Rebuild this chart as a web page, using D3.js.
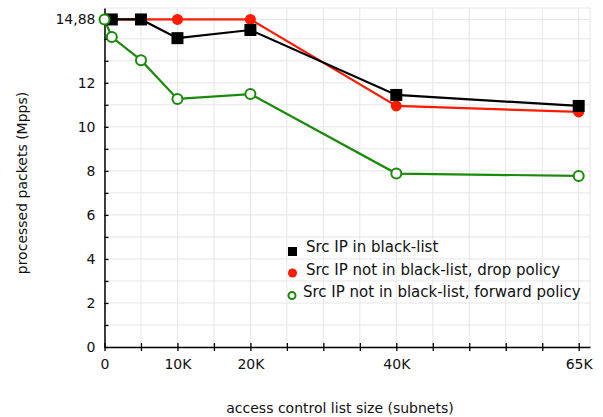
<!DOCTYPE html>
<html>
<head>
<meta charset="utf-8">
<script src="https://cdn.jsdelivr.net/npm/d3@7"></script>
<style>
  body { margin: 0; background: #fff; }
  text { font-family: "DejaVu Sans", sans-serif; }
</style>
</head>
<body>
<svg id="chart" width="603" height="417"></svg>
<script>
// Data (x in subnets, y in Mpps)
const blackX = [1000, 5000, 10000, 20000, 40000, 65000];
const blackY = [14.88, 14.88, 14.03, 14.4, 11.45, 10.95];
const redX = [1000, 5000, 10000, 20000, 40000, 65000];
const redY = [14.88, 14.88, 14.88, 14.88, 10.95, 10.68];
const greenX = [0, 1000, 5000, 10000, 20000, 40000, 65000];
const greenY = [14.88, 14.08, 13.03, 11.27, 11.49, 7.88, 7.77];

const xTicks = [0,5000,10000,15000,20000,25000,30000,35000,40000,45000,50000,55000,60000,65000];
const xTickLabels = {0: "0", 10000: "10K", 20000: "20K", 40000: "40K", 65000: "65K"};
const yTicks = [0,1,2,3,4,5,6,7,8,9,10,11,12,13,14,14.88];
const yTickLabels = {0: "0", 2: "2", 4: "4", 6: "6", 8: "8", 10: "10", 12: "12", 14.88: "14,88"};
const seriesNames = ["Src IP in black-list", "Src IP not in black-list, drop policy", "Src IP not in black-list, forward policy"];

const svg = d3.select("#chart");
const x = d3.scaleLinear().domain([0, 66550]).range([104.5, 590]);
const y = d3.scaleLinear().domain([0, 15.4]).range([347, 8]);

const grid = svg.append("g");
grid.selectAll("line.vx").data(xTicks.concat([66550])).join("line")
  .attr("x1", d => x(d)).attr("x2", d => x(d))
  .attr("y1", y(0)).attr("y2", y(15.4))
  .attr("stroke", "#e6e6e6").attr("stroke-width", 1);
grid.selectAll("line.hy").data(yTicks.concat([15.4])).join("line")
  .attr("x1", x(0)).attr("x2", x(66550))
  .attr("y1", d => y(d)).attr("y2", d => y(d))
  .attr("stroke", "#e6e6e6").attr("stroke-width", 1);

const xAxis = d3.axisBottom(x).tickValues(xTicks)
  .tickFormat(d => xTickLabels[d] || "").tickSizeInner(4).tickSizeOuter(0).tickPadding(8);
const gx = svg.append("g").attr("transform", `translate(0,${y(0)})`).call(xAxis);
gx.select(".domain").attr("stroke", "#000").attr("stroke-width", 1.5);
gx.selectAll(".tick line").attr("y1", -4).attr("stroke-width", 1.3);
gx.selectAll(".tick text").attr("font-size", 14).attr("fill", "#111").attr("font-family", "DejaVu Sans");

const yAxis = d3.axisLeft(y).tickValues(yTicks)
  .tickFormat(d => yTickLabels[d] || "").tickSizeInner(4).tickSizeOuter(0).tickPadding(5);
const gy = svg.append("g").attr("transform", `translate(${x(0)},0)`).call(yAxis);
gy.select(".domain").attr("stroke", "#000").attr("stroke-width", 1.5);
gy.selectAll(".tick line").attr("x2", 4).attr("stroke-width", 1.3);
gy.selectAll(".tick text").attr("font-size", 14).attr("fill", "#111").attr("font-family", "DejaVu Sans");

svg.append("text").attr("x", 340).attr("y", 413).attr("text-anchor", "middle")
  .attr("font-size", 14).attr("fill", "#111").text("access control list size (subnets)");
svg.append("text").attr("transform", "translate(27,183) rotate(-90)").attr("text-anchor", "middle")
  .attr("font-size", 14).attr("fill", "#111").text("processed packets (Mpps)");

const line = d3.line().x(d => x(d[0])).y(d => y(d[1]));
const blackData = blackX.map((v, i) => [v, blackY[i]]);
const redData = redX.map((v, i) => [v, redY[i]]);
const greenData = greenX.map((v, i) => [v, greenY[i]]);

const red = "#ff1a00", green = "#1a8a0a";

svg.append("path").datum(greenData).attr("d", line).attr("fill", "none").attr("stroke", green).attr("stroke-width", 2.2);
svg.append("path").datum(redData).attr("d", line).attr("fill", "none").attr("stroke", red).attr("stroke-width", 2.2);
svg.append("path").datum(blackData).attr("d", line).attr("fill", "none").attr("stroke", "#000").attr("stroke-width", 2.2);

svg.selectAll("circle.r").data(redData).join("circle")
  .attr("cx", d => x(d[0])).attr("cy", d => y(d[1])).attr("r", 5.5).attr("fill", red);
svg.selectAll("rect.b").data(blackData).join("rect")
  .attr("x", d => x(d[0]) - 6).attr("y", d => y(d[1]) - 6).attr("width", 12).attr("height", 12).attr("fill", "#000");
svg.selectAll("circle.g").data(greenData).join("circle")
  .attr("cx", d => x(d[0])).attr("cy", d => y(d[1])).attr("r", 5).attr("fill", "#fff")
  .attr("stroke", green).attr("stroke-width", 2);

const lg = svg.append("g");
lg.append("rect").attr("x", 288).attr("y", 247).attr("width", 9).attr("height", 9).attr("fill", "#000");
lg.append("circle").attr("cx", 292.5).attr("cy", 273).attr("r", 4.5).attr("fill", red);
lg.append("circle").attr("cx", 292).attr("cy", 295.5).attr("r", 3.5).attr("fill", "#fff").attr("stroke", green).attr("stroke-width", 2);
const lgX = [306, 306, 303];
const lgY = [252, 275, 297];
seriesNames.forEach((n, i) => {
  lg.append("text").attr("x", lgX[i]).attr("y", lgY[i]).attr("font-size", 15).attr("fill", "#111").text(n);
});
</script>
</body>
</html>
